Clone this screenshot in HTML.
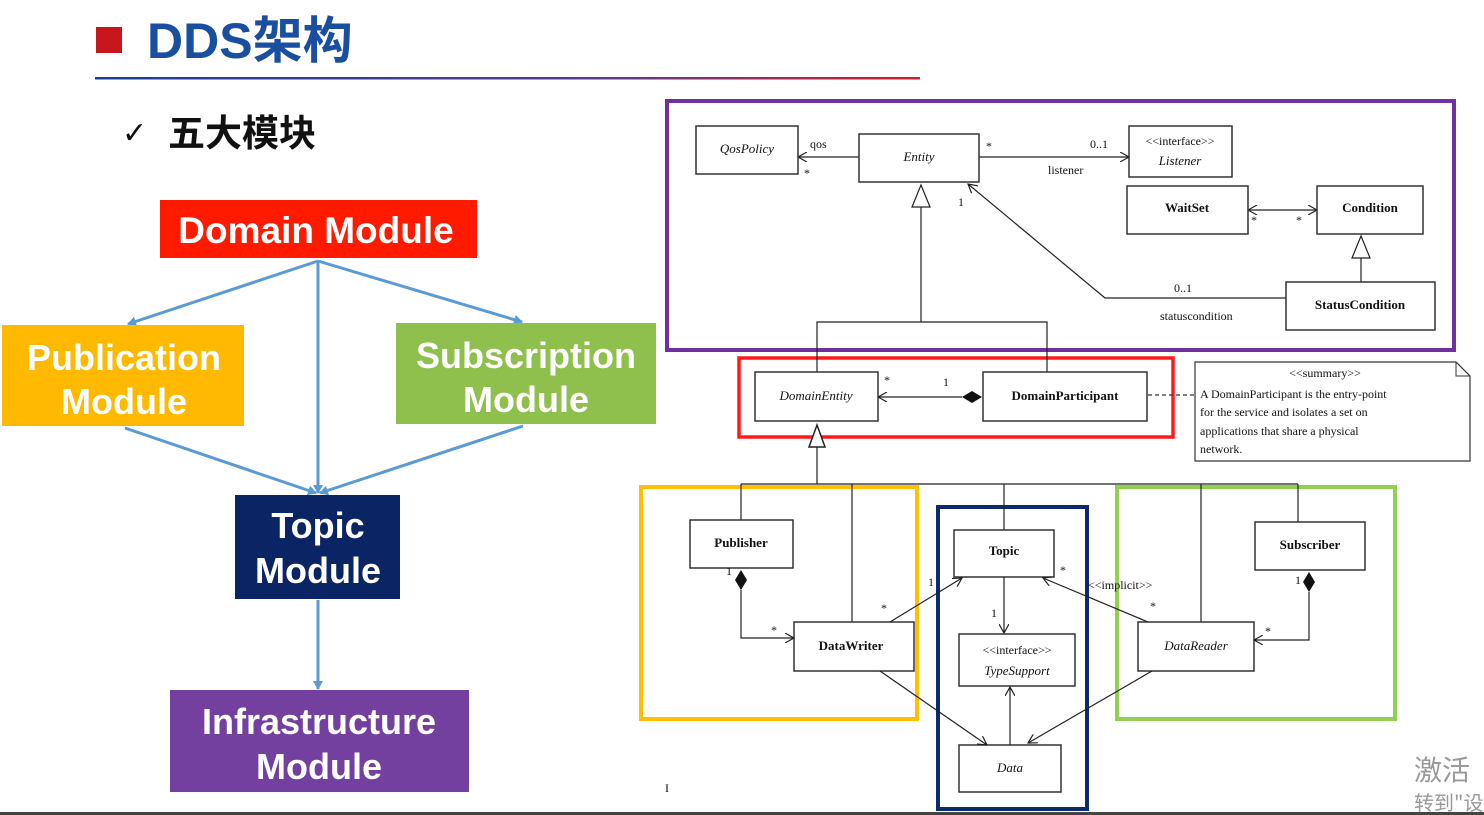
<!DOCTYPE html>
<html><head><meta charset="utf-8"><style>
html,body{margin:0;padding:0;background:#fff;}
svg{display:block;}
.b{font-family:"Liberation Sans","Noto Sans CJK SC",sans-serif;font-weight:bold;}
.u{font-family:"Liberation Serif",serif;font-size:13px;fill:#111;}
.ub{font-family:"Liberation Serif",serif;font-size:13px;font-weight:bold;fill:#111;}
.ui{font-family:"Liberation Serif",serif;font-size:13px;font-style:italic;fill:#111;}
.s{font-family:"Liberation Serif",serif;font-size:12px;fill:#111;}
.bx{fill:#fff;stroke:#333;stroke-width:1.5;}
.ln{stroke:#222;stroke-width:1.2;fill:none;}
</style></head><body>
<svg width="1484" height="815" viewBox="0 0 1484 815" xmlns="http://www.w3.org/2000/svg">
<defs>
<linearGradient id="g" x1="0" x2="1"><stop offset="0" stop-color="#1a3f9a"/><stop offset="0.6" stop-color="#5a3a90"/><stop offset="1" stop-color="#d0202a"/></linearGradient>
<marker id="ba" markerWidth="10" markerHeight="10" refX="8" refY="5" orient="auto" markerUnits="userSpaceOnUse"><path d="M0,0 L9,5 L0,10 z" fill="#5b9bd5"/></marker>
<marker id="oa" markerWidth="10" markerHeight="10" refX="9" refY="5" orient="auto" markerUnits="userSpaceOnUse"><path d="M0,0 L9,5 L0,10" fill="none" stroke="#222" stroke-width="1.2"/></marker>
<marker id="os" markerWidth="10" markerHeight="10" refX="0" refY="5" orient="auto" markerUnits="userSpaceOnUse"><path d="M9,0 L0,5 L9,10" fill="none" stroke="#222" stroke-width="1.2"/></marker>
</defs>
<rect width="1484" height="815" fill="#fff"/>
<!-- header -->
<rect x="96" y="27" width="26" height="26" fill="#c8161d"/>
<text x="147" y="58" class="b" font-size="50" fill="#1a4fa0">DDS架构</text>
<rect x="95" y="77" width="825" height="2.5" fill="url(#g)"/>
<text x="122" y="143" font-family="DejaVu Sans,sans-serif" font-size="30" fill="#111">✓</text>
<text x="168" y="146" class="b" font-size="37" fill="#111">五大模块</text>
<!-- left diagram -->
<g stroke="#5b9bd5" stroke-width="3" fill="none">
<line x1="318" y1="261" x2="128" y2="324" marker-end="url(#ba)"/>
<line x1="318" y1="261" x2="318" y2="493" marker-end="url(#ba)"/>
<line x1="318" y1="261" x2="522" y2="322" marker-end="url(#ba)"/>
<line x1="125" y1="428" x2="316" y2="493" marker-end="url(#ba)"/>
<line x1="523" y1="426" x2="320" y2="493" marker-end="url(#ba)"/>
<line x1="318" y1="600" x2="318" y2="689" marker-end="url(#ba)"/>
</g>
<rect x="160" y="200" width="317" height="58" fill="#ff1a00"/>
<text x="316" y="243" class="b" font-size="37" fill="#fff" text-anchor="middle">Domain Module</text>
<rect x="2" y="325" width="242" height="101" fill="#ffb900"/>
<text x="124" y="370" class="b" font-size="36" fill="#fff" text-anchor="middle">Publication</text>
<text x="124" y="414" class="b" font-size="36" fill="#fff" text-anchor="middle">Module</text>
<rect x="396" y="323" width="260" height="101" fill="#8fc04e"/>
<text x="526" y="368" class="b" font-size="36" fill="#fff" text-anchor="middle">Subscription</text>
<text x="526" y="412" class="b" font-size="36" fill="#fff" text-anchor="middle">Module</text>
<rect x="235" y="495" width="165" height="104" fill="#0b2463"/>
<text x="318" y="538" class="b" font-size="36" fill="#fff" text-anchor="middle">Topic</text>
<text x="318" y="583" class="b" font-size="36" fill="#fff" text-anchor="middle">Module</text>
<rect x="170" y="690" width="299" height="102" fill="#7340a0"/>
<text x="319" y="734" class="b" font-size="36" fill="#fff" text-anchor="middle">Infrastructure</text>
<text x="319" y="779" class="b" font-size="36" fill="#fff" text-anchor="middle">Module</text>
<!-- UML -->
<rect x="667" y="101" width="787" height="249" fill="none" stroke="#7030a0" stroke-width="4"/>
<rect x="739" y="358" width="434" height="79" fill="none" stroke="#ff1a1a" stroke-width="3.5"/>
<rect x="641" y="487" width="276" height="232" fill="none" stroke="#ffc000" stroke-width="4"/>
<rect x="938" y="507" width="149" height="302" fill="none" stroke="#0d2a6b" stroke-width="4"/>
<rect x="1117" y="487" width="278" height="232" fill="none" stroke="#92d050" stroke-width="4"/>
<!-- top connections -->
<line class="ln" x1="859" y1="157" x2="798" y2="157" marker-end="url(#oa)"/>
<text x="810" y="148" class="s">qos</text><text x="804" y="177" class="s">*</text>
<line class="ln" x1="979" y1="157" x2="1129" y2="157" marker-end="url(#oa)"/>
<text x="986" y="150" class="s">*</text><text x="1090" y="148" class="s">0..1</text><text x="1048" y="174" class="s">listener</text>
<line class="ln" x1="1248" y1="210" x2="1317" y2="210" marker-start="url(#os)" marker-end="url(#oa)"/>
<text x="1251" y="224" class="s">*</text><text x="1296" y="224" class="s">*</text>
<polyline class="ln" points="1286,298 1105,298 968,184" marker-end="url(#oa)"/>
<text x="958" y="206" class="s">1</text><text x="1174" y="292" class="s">0..1</text><text x="1160" y="320" class="s">statuscondition</text>
<line class="ln" x1="1361" y1="282" x2="1361" y2="258"/>
<path d="M1361,236 L1352,258 L1370,258 Z" fill="#fff" stroke="#222" stroke-width="1.2"/>
<line class="ln" x1="921" y1="207" x2="921" y2="322"/>
<path d="M921,185 L912,207 L930,207 Z" fill="#fff" stroke="#222" stroke-width="1.2"/>
<polyline class="ln" points="817,372 817,322 1047,322 1047,372"/>
<!-- boxes top -->
<rect class="bx" x="696" y="126" width="102" height="48"/><text x="747" y="153" class="ui" text-anchor="middle">QosPolicy</text>
<rect class="bx" x="859" y="134" width="120" height="48"/><text x="919" y="161" class="ui" text-anchor="middle">Entity</text>
<rect class="bx" x="1129" y="126" width="103" height="51"/><text x="1180" y="145" class="s" text-anchor="middle">&lt;&lt;interface&gt;&gt;</text><text x="1180" y="165" class="ui" text-anchor="middle">Listener</text>
<rect class="bx" x="1127" y="186" width="121" height="48"/><text x="1187" y="212" class="ub" text-anchor="middle">WaitSet</text>
<rect class="bx" x="1317" y="186" width="106" height="48"/><text x="1370" y="212" class="ub" text-anchor="middle">Condition</text>
<rect class="bx" x="1286" y="282" width="149" height="48"/><text x="1360" y="309" class="ub" text-anchor="middle">StatusCondition</text>
<!-- domain -->
<rect class="bx" x="755" y="372" width="123" height="49"/><text x="816" y="400" class="ui" text-anchor="middle">DomainEntity</text>
<rect class="bx" x="983" y="372" width="164" height="49"/><text x="1065" y="400" class="ub" text-anchor="middle">DomainParticipant</text>
<line class="ln" x1="878" y1="397" x2="962" y2="397" marker-start="url(#os)"/>
<path d="M962,397 L972,391 L982,397 L972,403 Z" fill="#111"/>
<text x="884" y="384" class="s">*</text><text x="943" y="386" class="s">1</text>
<line x1="1148" y1="395" x2="1195" y2="395" stroke="#333" stroke-width="1.2" stroke-dasharray="4,3"/>
<path d="M1195,362 L1456,362 L1470,376 L1470,461 L1195,461 Z" fill="#fff" stroke="#333" stroke-width="1.2"/>
<path d="M1456,362 L1456,376 L1470,376" fill="none" stroke="#333" stroke-width="1"/>
<text x="1325" y="377" class="s" text-anchor="middle">&lt;&lt;summary&gt;&gt;</text>
<text x="1200" y="398" class="s">A DomainParticipant is the entry-point</text>
<text x="1200" y="416" class="s">for the service and isolates a set on</text>
<text x="1200" y="435" class="s">applications that share a physical</text>
<text x="1200" y="453" class="s">network.</text>
<!-- lower inheritance -->
<path d="M817,425 L809,447 L825,447 Z" fill="#fff" stroke="#222" stroke-width="1.5"/>
<line class="ln" x1="817" y1="447" x2="817" y2="484" stroke-width="2"/>
<line class="ln" x1="741" y1="484" x2="1298" y2="484" stroke-width="1.5"/>
<line class="ln" x1="741" y1="484" x2="741" y2="520"/>
<line class="ln" x1="852" y1="484" x2="852" y2="622"/>
<line class="ln" x1="1004" y1="484" x2="1004" y2="530"/>
<line class="ln" x1="1201" y1="484" x2="1201" y2="622"/>
<line class="ln" x1="1298" y1="484" x2="1298" y2="522"/>
<!-- lower boxes -->
<rect class="bx" x="690" y="520" width="103" height="48"/><text x="741" y="547" class="ub" text-anchor="middle">Publisher</text>
<rect class="bx" x="794" y="622" width="120" height="49"/><text x="851" y="650" class="ub" text-anchor="middle">DataWriter</text>
<rect class="bx" x="954" y="530" width="100" height="47"/><text x="1004" y="555" class="ub" text-anchor="middle">Topic</text>
<rect class="bx" x="959" y="634" width="116" height="52"/><text x="1017" y="654" class="s" text-anchor="middle">&lt;&lt;interface&gt;&gt;</text><text x="1017" y="675" class="ui" text-anchor="middle">TypeSupport</text>
<rect class="bx" x="1138" y="622" width="116" height="49"/><text x="1196" y="650" class="ui" text-anchor="middle">DataReader</text>
<rect class="bx" x="1255" y="522" width="110" height="48"/><text x="1310" y="549" class="ub" text-anchor="middle">Subscriber</text>
<rect class="bx" x="959" y="745" width="102" height="47"/><text x="1010" y="772" class="ui" text-anchor="middle">Data</text>
<!-- lower connectors -->
<polyline class="ln" points="741,590 741,638 794,638" marker-end="url(#oa)"/>
<path d="M741,570 L747,580 L741,590 L735,580 Z" fill="#111"/>
<text x="726" y="575" class="s">1</text><text x="771" y="634" class="s">*</text>
<polyline class="ln" points="1309,592 1309,640 1254,640" marker-end="url(#oa)"/>
<path d="M1309,572 L1315,582 L1309,592 L1303,582 Z" fill="#111"/>
<text x="1295" y="584" class="s">1</text><text x="1265" y="635" class="s">*</text>
<line class="ln" x1="890" y1="622" x2="962" y2="578" marker-end="url(#oa)"/>
<text x="881" y="612" class="s">*</text><text x="928" y="586" class="s">1</text>
<line class="ln" x1="1148" y1="622" x2="1043" y2="578" marker-end="url(#oa)"/>
<text x="1060" y="574" class="s">*</text><text x="1150" y="610" class="s">*</text>
<text x="1088" y="589" class="s">&lt;&lt;implicit&gt;&gt;</text>
<line class="ln" x1="1004" y1="577" x2="1004" y2="633" marker-end="url(#oa)"/>
<text x="991" y="617" class="s">1</text>
<line class="ln" x1="1010" y1="745" x2="1010" y2="687" marker-end="url(#oa)"/>
<line class="ln" x1="880" y1="671" x2="987" y2="745" marker-end="url(#oa)"/>
<line class="ln" x1="1152" y1="671" x2="1028" y2="743" marker-end="url(#oa)"/>
<!-- cursor & watermark -->
<text x="665" y="792" class="s" fill="#333">I</text>
<text x="1414" y="780" font-family="'Noto Sans CJK SC',sans-serif" font-size="28" fill="#999">激活</text>
<text x="1414" y="810" font-family="'Noto Sans CJK SC',sans-serif" font-size="20" fill="#999">转到"设</text>
<rect x="0" y="812" width="1484" height="3" fill="#444"/>
</svg>
</body></html>
